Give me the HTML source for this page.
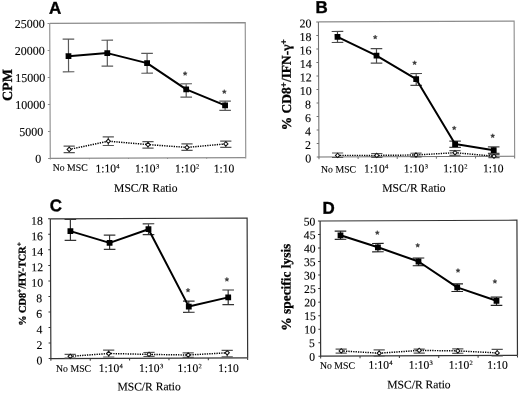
<!DOCTYPE html>
<html><head><meta charset="utf-8"><style>
html,body{margin:0;padding:0;background:#fff;}
body{width:520px;height:394px;overflow:hidden;}
svg{display:block;font-family:"Liberation Serif", serif;will-change:transform;}
</style></head><body>
<svg width="520" height="394" viewBox="0 0 520 394">
<rect width="520" height="394" fill="#fff"/>
<g transform="rotate(-0.23 260.0 197.0)">
<path d="M50.43 22.55H245.93V157.55" fill="none" stroke="#8c8c8c" stroke-width="1.1"/>
<path d="M50.43 22.55V157.55H245.93" fill="none" stroke="#8c8c8c" stroke-width="1.1"/>
<path d="M48.23 157.55H50.43M48.23 130.55H50.43M48.23 103.55H50.43M48.23 76.55H50.43M48.23 49.55H50.43M48.23 22.55H50.43" stroke="#8c8c8c" stroke-width="1"/>
<path d="M50.43 157.55v1.0M89.53 157.55v1.0M128.63 157.55v1.0M167.73 157.55v1.0M206.83 157.55v1.0M245.93 157.55v1.0" stroke="#8c8c8c" stroke-width="1"/>
<text x="41.3" y="161.95" text-anchor="end" font-size="12.0" stroke="#000" stroke-width="0.12">0</text>
<text x="43.4" y="134.95" text-anchor="end" font-size="12.0" stroke="#000" stroke-width="0.12">5000</text>
<text x="45.6" y="107.95" text-anchor="end" font-size="12.0" stroke="#000" stroke-width="0.12">10000</text>
<text x="45.6" y="80.95" text-anchor="end" font-size="12.0" stroke="#000" stroke-width="0.12">15000</text>
<text x="45.4" y="53.95" text-anchor="end" font-size="12.0" stroke="#000" stroke-width="0.12">20000</text>
<text x="45.4" y="26.95" text-anchor="end" font-size="12.0" stroke="#000" stroke-width="0.12">25000</text>
<path d="M69.39 145.43V151.93M63.79 145.43h11.2M63.79 151.93h11.2" stroke="#555" stroke-width="1.2"/>
<path d="M108.53 136.19V144.89M102.93 136.19h11.2M102.93 144.89h11.2" stroke="#555" stroke-width="1.2"/>
<path d="M148.21 141.15V147.65M142.61 141.15h11.2M142.61 147.65h11.2" stroke="#555" stroke-width="1.2"/>
<path d="M187.2 143.61V150.11M181.6 143.61h11.2M181.6 150.11h11.2" stroke="#555" stroke-width="1.2"/>
<path d="M226.01 141.06V147.26M220.41 141.06h11.2M220.41 147.26h11.2" stroke="#555" stroke-width="1.2"/>
<polyline points="69.39,148.63 108.53,140.59 148.21,144.15 187.2,147.11 226.01,143.76" fill="none" stroke="#000" stroke-width="1.45" stroke-dasharray="1.3 1.1"/>
<path d="M69.39 146.48L71.54 148.63L69.39 150.78L67.24 148.63Z" fill="#fff" stroke="#111" stroke-width="1.05"/>
<path d="M108.53 138.44L110.68 140.59L108.53 142.74L106.38 140.59Z" fill="#fff" stroke="#111" stroke-width="1.05"/>
<path d="M148.21 142L150.36 144.15L148.21 146.3L146.06 144.15Z" fill="#fff" stroke="#111" stroke-width="1.05"/>
<path d="M187.2 144.96L189.35 147.11L187.2 149.26L185.05 147.11Z" fill="#fff" stroke="#111" stroke-width="1.05"/>
<path d="M226.01 141.61L228.16 143.76L226.01 145.91L223.86 143.76Z" fill="#fff" stroke="#111" stroke-width="1.05"/>
<path d="M69.07 38.33V71.03M63.27 38.33h11.6M63.27 71.03h11.6" stroke="#5a5a5a" stroke-width="1.2"/>
<path d="M107.88 39.59V65.59M102.08 39.59h11.6M102.08 65.59h11.6" stroke="#5a5a5a" stroke-width="1.2"/>
<path d="M147.64 52.95V72.75M141.84 52.95h11.6M141.84 72.75h11.6" stroke="#5a5a5a" stroke-width="1.2"/>
<path d="M186.63 83.5V96.9M180.83 83.5h11.6M180.83 96.9h11.6" stroke="#5a5a5a" stroke-width="1.2"/>
<path d="M225.47 101.06V110.16M219.67 101.06h11.6M219.67 110.16h11.6" stroke="#5a5a5a" stroke-width="1.2"/>
<polyline points="69.07,55.43 107.88,52.49 147.64,62.65 186.63,89.1 225.47,105.26" fill="none" stroke="#000" stroke-width="2.0" stroke-linejoin="round"/>
<rect x="66.17" y="52.53" width="5.8" height="5.8" fill="#000"/>
<rect x="104.98" y="49.59" width="5.8" height="5.8" fill="#000"/>
<rect x="144.74" y="59.75" width="5.8" height="5.8" fill="#000"/>
<rect x="183.73" y="86.2" width="5.8" height="5.8" fill="#000"/>
<rect x="222.57" y="102.36" width="5.8" height="5.8" fill="#000"/>
<polygon points="185.6,71.1 186.18,72.49 187.69,72.62 186.55,73.61 186.89,75.08 185.6,74.3 184.3,75.08 184.65,73.61 183.5,72.62 185.01,72.49" fill="#3a3a3a" stroke="#3a3a3a" stroke-width="0.45" stroke-linejoin="round"/>
<polygon points="224.72,89.46 225.31,90.85 226.82,90.98 225.67,91.97 226.02,93.44 224.72,92.66 223.43,93.44 223.77,91.97 222.63,90.98 224.14,90.85" fill="#3a3a3a" stroke="#3a3a3a" stroke-width="0.45" stroke-linejoin="round"/>
<text x="52.81" y="169.97" font-size="9.8" stroke="#000" stroke-width="0.12">No MSC</text>
<text x="95.5" y="171.74" font-size="11.6" stroke="#000" stroke-width="0.12">1:10<tspan dx="0.3" dy="-3.7" font-size="6.6">4</tspan></text>
<text x="135.1" y="171.9" font-size="11.6" stroke="#000" stroke-width="0.12">1:10<tspan dx="0.3" dy="-3.7" font-size="6.6">3</tspan></text>
<text x="175.2" y="172.06" font-size="11.6" stroke="#000" stroke-width="0.12">1:10<tspan dx="0.3" dy="-3.7" font-size="6.6">2</tspan></text>
<text x="213.8" y="172.22" font-size="11.6" stroke="#000" stroke-width="0.12">1:10</text>
<text x="114.12" y="191.32" font-size="11.6" stroke="#000" stroke-width="0.12">MSC/R Ratio</text>
<text transform="translate(12.35,84.1) rotate(-90)" text-anchor="middle" font-weight="bold" font-size="14" stroke="#000" stroke-width="0.3">CPM</text>
<text x="49.74" y="12.85" font-family='"Liberation Sans", sans-serif' font-weight="bold" font-size="17" stroke="#000" stroke-width="0.35">A</text>
<path d="M319.13 22.13H514.83V157.23" fill="none" stroke="#8c8c8c" stroke-width="1.1"/>
<path d="M319.13 22.13V157.23H514.83" fill="none" stroke="#707070" stroke-width="1.1"/>
<path d="M316.93 157.23H319.13M316.93 143.72H319.13M316.93 130.21H319.13M316.93 116.7H319.13M316.93 103.19H319.13M316.93 89.68H319.13M316.93 76.17H319.13M316.93 62.66H319.13M316.93 49.15H319.13M316.93 35.64H319.13M316.93 22.13H319.13" stroke="#707070" stroke-width="1"/>
<path d="M319.13 157.23v2.2M358.27 157.23v2.2M397.41 157.23v2.2M436.55 157.23v2.2M475.69 157.23v2.2M514.83 157.23v2.2" stroke="#707070" stroke-width="1"/>
<text x="311.3" y="162.73" text-anchor="end" font-size="12.0" stroke="#000" stroke-width="0.12">0</text>
<text x="311.3" y="149.22" text-anchor="end" font-size="12.0" stroke="#000" stroke-width="0.12">2</text>
<text x="311.3" y="135.71" text-anchor="end" font-size="12.0" stroke="#000" stroke-width="0.12">4</text>
<text x="311.3" y="122.2" text-anchor="end" font-size="12.0" stroke="#000" stroke-width="0.12">6</text>
<text x="311.3" y="108.69" text-anchor="end" font-size="12.0" stroke="#000" stroke-width="0.12">8</text>
<text x="312.2" y="95.18" text-anchor="end" font-size="12.0" stroke="#000" stroke-width="0.12">10</text>
<text x="312.2" y="81.67" text-anchor="end" font-size="12.0" stroke="#000" stroke-width="0.12">12</text>
<text x="312.2" y="68.16" text-anchor="end" font-size="12.0" stroke="#000" stroke-width="0.12">14</text>
<text x="312.2" y="54.65" text-anchor="end" font-size="12.0" stroke="#000" stroke-width="0.12">16</text>
<text x="312.2" y="41.14" text-anchor="end" font-size="12.0" stroke="#000" stroke-width="0.12">18</text>
<text x="312.2" y="27.63" text-anchor="end" font-size="12.0" stroke="#000" stroke-width="0.12">20</text>
<path d="M337.77 153.31V157.81M332.17 153.31h11.2M332.17 157.81h11.2" stroke="#555" stroke-width="1.2"/>
<path d="M376.97 153.97V157.77M371.37 153.97h11.2M371.37 157.77h11.2" stroke="#555" stroke-width="1.2"/>
<path d="M416.17 153.83V157.43M410.57 153.83h11.2M410.57 157.43h11.2" stroke="#555" stroke-width="1.2"/>
<path d="M455.18 151.48V156.08M449.58 151.48h11.2M449.58 156.08h11.2" stroke="#555" stroke-width="1.2"/>
<path d="M494.16 155.64V158.54M488.56 155.64h11.2M488.56 158.54h11.2" stroke="#555" stroke-width="1.2"/>
<polyline points="337.77,155.71 376.97,155.87 416.17,155.63 455.18,153.48 494.16,157.14" fill="none" stroke="#000" stroke-width="1.45" stroke-dasharray="1.3 1.1"/>
<path d="M337.77 153.56L339.92 155.71L337.77 157.86L335.62 155.71Z" fill="#fff" stroke="#111" stroke-width="1.05"/>
<path d="M376.97 153.72L379.12 155.87L376.97 158.02L374.82 155.87Z" fill="#fff" stroke="#111" stroke-width="1.05"/>
<path d="M416.17 153.48L418.32 155.63L416.17 157.78L414.02 155.63Z" fill="#fff" stroke="#111" stroke-width="1.05"/>
<path d="M455.18 151.33L457.33 153.48L455.18 155.63L453.03 153.48Z" fill="#fff" stroke="#111" stroke-width="1.05"/>
<path d="M494.16 154.99L496.31 157.14L494.16 159.29L492.01 157.14Z" fill="#fff" stroke="#111" stroke-width="1.05"/>
<path d="M338.14 31.81V42.81M332.34 31.81h11.6M332.34 42.81h11.6" stroke="#4a4a4a" stroke-width="1.2"/>
<path d="M377.07 49.07V63.67M371.27 49.07h11.6M371.27 63.67h11.6" stroke="#4a4a4a" stroke-width="1.2"/>
<path d="M416.67 74.13V86.03M410.87 74.13h11.6M410.87 86.03h11.6" stroke="#4a4a4a" stroke-width="1.2"/>
<path d="M455.31 141.98V148.18M449.51 141.98h11.6M449.51 148.18h11.6" stroke="#4a4a4a" stroke-width="1.2"/>
<path d="M493.89 147.84V154.24M488.09 147.84h11.6M488.09 154.24h11.6" stroke="#4a4a4a" stroke-width="1.2"/>
<polyline points="338.14,37.21 377.07,56.17 416.67,79.83 455.31,144.88 493.89,151.14" fill="none" stroke="#000" stroke-width="2.0" stroke-linejoin="round"/>
<rect x="335.24" y="34.31" width="5.8" height="5.8" fill="#000"/>
<rect x="374.17" y="53.27" width="5.8" height="5.8" fill="#000"/>
<rect x="413.77" y="76.93" width="5.8" height="5.8" fill="#000"/>
<rect x="452.41" y="141.98" width="5.8" height="5.8" fill="#000"/>
<rect x="490.99" y="148.24" width="5.8" height="5.8" fill="#000"/>
<polygon points="375.84,35.46 376.43,36.85 377.93,36.98 376.79,37.97 377.13,39.44 375.84,38.66 374.55,39.44 374.89,37.97 373.75,36.98 375.25,36.85" fill="#3a3a3a" stroke="#3a3a3a" stroke-width="0.45" stroke-linejoin="round"/>
<polygon points="415.14,61.32 415.73,62.71 417.23,62.84 416.09,63.83 416.43,65.3 415.14,64.52 413.85,65.3 414.19,63.83 413.05,62.84 414.55,62.71" fill="#3a3a3a" stroke="#3a3a3a" stroke-width="0.45" stroke-linejoin="round"/>
<polygon points="454.48,126.68 455.06,128.07 456.57,128.2 455.43,129.19 455.77,130.66 454.48,129.88 453.18,130.66 453.53,129.19 452.38,128.2 453.89,128.07" fill="#3a3a3a" stroke="#3a3a3a" stroke-width="0.45" stroke-linejoin="round"/>
<polygon points="492.94,134.63 493.53,136.03 495.04,136.15 493.9,137.14 494.24,138.61 492.94,137.83 491.65,138.61 491.99,137.14 490.85,136.15 492.36,136.03" fill="#3a3a3a" stroke="#3a3a3a" stroke-width="0.45" stroke-linejoin="round"/>
<text x="321.1" y="172.75" font-size="9.8" stroke="#000" stroke-width="0.12">No MSC</text>
<text x="364.2" y="173.02" font-size="11.6" stroke="#000" stroke-width="0.12">1:10<tspan dx="0.3" dy="-3.7" font-size="6.6">4</tspan></text>
<text x="403.9" y="172.98" font-size="11.6" stroke="#000" stroke-width="0.12">1:10<tspan dx="0.3" dy="-3.7" font-size="6.6">3</tspan></text>
<text x="443.4" y="172.94" font-size="11.6" stroke="#000" stroke-width="0.12">1:10<tspan dx="0.3" dy="-3.7" font-size="6.6">2</tspan></text>
<text x="483" y="173.1" font-size="11.6" stroke="#000" stroke-width="0.12">1:10</text>
<text x="382.22" y="192.39" font-size="11.6" stroke="#000" stroke-width="0.12">MSC/R Ratio</text>
<text transform="translate(291.25,84.82) rotate(-90)" text-anchor="middle" font-weight="bold" font-size="13.4" stroke="#000" stroke-width="0.3">% CD8<tspan dy="-4" font-size="9.38">+</tspan><tspan dy="4">/IFN-γ</tspan><tspan dy="-4" font-size="9.38">+</tspan></text>
<text x="316.14" y="13.12" font-family='"Liberation Sans", sans-serif' font-weight="bold" font-size="17" stroke="#000" stroke-width="0.35">B</text>
<path d="M50.24 217.95H247.03V357.75" fill="none" stroke="#333" stroke-width="1.2"/>
<path d="M50.24 217.95V357.75H247.03" fill="none" stroke="#333" stroke-width="1.2"/>
<path d="M48.04 357.75H50.24M48.04 342.22H50.24M48.04 326.69H50.24M48.04 311.15H50.24M48.04 295.62H50.24M48.04 280.09H50.24M48.04 264.55H50.24M48.04 249.02H50.24M48.04 233.49H50.24M48.04 217.95H50.24" stroke="#333" stroke-width="1"/>
<path d="M50.24 357.75v2.2M89.59 357.75v2.2M128.95 357.75v2.2M168.31 357.75v2.2M207.67 357.75v2.2M247.03 357.75v2.2" stroke="#333" stroke-width="1"/>
<text x="41.8" y="363.55" text-anchor="end" font-size="11.8" stroke="#000" stroke-width="0.12">0</text>
<text x="41.8" y="348.02" text-anchor="end" font-size="11.8" stroke="#000" stroke-width="0.12">2</text>
<text x="41.8" y="332.49" text-anchor="end" font-size="11.8" stroke="#000" stroke-width="0.12">4</text>
<text x="41.8" y="316.95" text-anchor="end" font-size="11.8" stroke="#000" stroke-width="0.12">6</text>
<text x="41.8" y="301.42" text-anchor="end" font-size="11.8" stroke="#000" stroke-width="0.12">8</text>
<text x="42.8" y="285.89" text-anchor="end" font-size="11.8" stroke="#000" stroke-width="0.12">10</text>
<text x="42.8" y="270.35" text-anchor="end" font-size="11.8" stroke="#000" stroke-width="0.12">12</text>
<text x="42.8" y="254.82" text-anchor="end" font-size="11.8" stroke="#000" stroke-width="0.12">14</text>
<text x="42.8" y="239.29" text-anchor="end" font-size="11.8" stroke="#000" stroke-width="0.12">16</text>
<text x="42.8" y="223.75" text-anchor="end" font-size="11.8" stroke="#000" stroke-width="0.12">18</text>
<path d="M69.56 353.64V357.24M63.96 353.64h11.2M63.96 357.24h11.2" stroke="#555" stroke-width="1.2"/>
<path d="M108.07 349.59V356.39M102.47 349.59h11.2M102.47 356.39h11.2" stroke="#555" stroke-width="1.2"/>
<path d="M148.37 352.05V356.05M142.77 352.05h11.2M142.77 356.05h11.2" stroke="#555" stroke-width="1.2"/>
<path d="M187.57 352.51V357.01M181.97 352.51h11.2M181.97 357.01h11.2" stroke="#555" stroke-width="1.2"/>
<path d="M226.57 350.17V356.67M220.97 350.17h11.2M220.97 356.67h11.2" stroke="#555" stroke-width="1.2"/>
<polyline points="69.56,355.54 108.07,352.89 148.37,353.95 187.57,354.71 226.57,352.67" fill="none" stroke="#000" stroke-width="1.45" stroke-dasharray="1.3 1.1"/>
<path d="M69.56 353.39L71.71 355.54L69.56 357.69L67.41 355.54Z" fill="#fff" stroke="#111" stroke-width="1.05"/>
<path d="M108.07 350.74L110.22 352.89L108.07 355.04L105.92 352.89Z" fill="#fff" stroke="#111" stroke-width="1.05"/>
<path d="M148.37 351.8L150.52 353.95L148.37 356.1L146.22 353.95Z" fill="#fff" stroke="#111" stroke-width="1.05"/>
<path d="M187.57 352.56L189.72 354.71L187.57 356.86L185.42 354.71Z" fill="#fff" stroke="#111" stroke-width="1.05"/>
<path d="M226.57 350.52L228.72 352.67L226.57 354.82L224.42 352.67Z" fill="#fff" stroke="#111" stroke-width="1.05"/>
<path d="M70.26 218.74V239.54M64.46 218.74h11.6M64.46 239.54h11.6" stroke="#333" stroke-width="1.2"/>
<path d="M109.42 234.5V248.8M103.62 234.5h11.6M103.62 248.8h11.6" stroke="#333" stroke-width="1.2"/>
<path d="M148.37 223.35V234.15M142.57 223.35h11.6M142.57 234.15h11.6" stroke="#333" stroke-width="1.2"/>
<path d="M188.36 300.91V312.01M182.56 300.91h11.6M182.56 312.01h11.6" stroke="#333" stroke-width="1.2"/>
<path d="M227.8 289.87V304.47M222 289.87h11.6M222 304.47h11.6" stroke="#333" stroke-width="1.2"/>
<polyline points="70.26,230.34 109.42,242.3 148.37,228.75 188.36,306.31 227.8,297.27" fill="none" stroke="#000" stroke-width="2.0" stroke-linejoin="round"/>
<rect x="67.36" y="227.44" width="5.8" height="5.8" fill="#000"/>
<rect x="106.52" y="239.4" width="5.8" height="5.8" fill="#000"/>
<rect x="145.47" y="225.85" width="5.8" height="5.8" fill="#000"/>
<rect x="185.46" y="303.41" width="5.8" height="5.8" fill="#000"/>
<rect x="224.9" y="294.37" width="5.8" height="5.8" fill="#000"/>
<polygon points="187.63,287.81 188.22,289.2 189.72,289.33 188.58,290.32 188.92,291.79 187.63,291.01 186.33,291.79 186.68,290.32 185.53,289.33 187.04,289.2" fill="#3a3a3a" stroke="#3a3a3a" stroke-width="0.45" stroke-linejoin="round"/>
<polygon points="226.57,277.17 227.16,278.56 228.66,278.69 227.52,279.68 227.86,281.15 226.57,280.37 225.28,281.15 225.62,279.68 224.48,278.69 225.98,278.56" fill="#3a3a3a" stroke="#3a3a3a" stroke-width="0.45" stroke-linejoin="round"/>
<text x="55.3" y="370.98" font-size="9.8" stroke="#000" stroke-width="0.12">No MSC</text>
<text x="98" y="371.35" font-size="11.6" stroke="#000" stroke-width="0.12">1:10<tspan dx="0.3" dy="-3.7" font-size="6.6">4</tspan></text>
<text x="138.3" y="371.51" font-size="11.6" stroke="#000" stroke-width="0.12">1:10<tspan dx="0.3" dy="-3.7" font-size="6.6">3</tspan></text>
<text x="176.9" y="371.67" font-size="11.6" stroke="#000" stroke-width="0.12">1:10<tspan dx="0.3" dy="-3.7" font-size="6.6">2</tspan></text>
<text x="217.6" y="371.83" font-size="11.6" stroke="#000" stroke-width="0.12">1:10</text>
<text x="116.62" y="389.93" font-size="11.6" stroke="#000" stroke-width="0.12">MSC/R Ratio</text>
<text transform="translate(25.25,283.06) rotate(-90)" text-anchor="middle" font-weight="bold" font-size="10.3" stroke="#000" stroke-width="0.3">% CD8<tspan dy="-4" font-size="7.21">+</tspan><tspan dy="4">/HY-TCR</tspan><tspan dy="-4" font-size="7.21">+</tspan></text>
<text x="49.74" y="210.36" font-family='"Liberation Sans", sans-serif' font-weight="bold" font-size="17" stroke="#000" stroke-width="0.35">C</text>
<path d="M320.03 221.24H516.83V356.44" fill="none" stroke="#333" stroke-width="1.2"/>
<path d="M320.03 221.24V356.44H516.83" fill="none" stroke="#333" stroke-width="1.2"/>
<path d="M317.83 356.44H320.03M317.83 342.92H320.03M317.83 329.4H320.03M317.83 315.88H320.03M317.83 302.36H320.03M317.83 288.84H320.03M317.83 275.32H320.03M317.83 261.8H320.03M317.83 248.28H320.03M317.83 234.76H320.03M317.83 221.24H320.03" stroke="#333" stroke-width="1"/>
<path d="M320.03 356.44v2.2M359.39 356.44v2.2M398.75 356.44v2.2M438.11 356.44v2.2M477.47 356.44v2.2M516.83 356.44v2.2" stroke="#333" stroke-width="1"/>
<text x="314.3" y="360.84" text-anchor="end" font-size="11.6" stroke="#000" stroke-width="0.12">0</text>
<text x="314.3" y="347.32" text-anchor="end" font-size="11.6" stroke="#000" stroke-width="0.12">5</text>
<text x="315.3" y="333.8" text-anchor="end" font-size="11.6" stroke="#000" stroke-width="0.12">10</text>
<text x="315.3" y="320.28" text-anchor="end" font-size="11.6" stroke="#000" stroke-width="0.12">15</text>
<text x="315.3" y="306.76" text-anchor="end" font-size="11.6" stroke="#000" stroke-width="0.12">20</text>
<text x="315.3" y="293.24" text-anchor="end" font-size="11.6" stroke="#000" stroke-width="0.12">25</text>
<text x="315.3" y="279.72" text-anchor="end" font-size="11.6" stroke="#000" stroke-width="0.12">30</text>
<text x="315.3" y="266.2" text-anchor="end" font-size="11.6" stroke="#000" stroke-width="0.12">35</text>
<text x="315.3" y="252.68" text-anchor="end" font-size="11.6" stroke="#000" stroke-width="0.12">40</text>
<text x="315.3" y="239.16" text-anchor="end" font-size="11.6" stroke="#000" stroke-width="0.12">45</text>
<text x="315.3" y="225.64" text-anchor="end" font-size="11.6" stroke="#000" stroke-width="0.12">50</text>
<path d="M340.58 349.42V353.42M334.98 349.42h11.2M334.98 353.42h11.2" stroke="#555" stroke-width="1.2"/>
<path d="M378.57 350.38V356.48M372.97 350.38h11.2M372.97 356.48h11.2" stroke="#555" stroke-width="1.2"/>
<path d="M418.58 349.84V353.84M412.98 349.84h11.2M412.98 353.84h11.2" stroke="#555" stroke-width="1.2"/>
<path d="M457.18 349.69V354.09M451.58 349.69h11.2M451.58 354.09h11.2" stroke="#555" stroke-width="1.2"/>
<path d="M496.57 350.25V356.95M490.97 350.25h11.2M490.97 356.95h11.2" stroke="#555" stroke-width="1.2"/>
<polyline points="340.58,351.22 378.57,353.68 418.58,351.04 457.18,351.69 496.57,353.85" fill="none" stroke="#000" stroke-width="1.45" stroke-dasharray="1.3 1.1"/>
<path d="M340.58 349.07L342.73 351.22L340.58 353.37L338.43 351.22Z" fill="#fff" stroke="#111" stroke-width="1.05"/>
<path d="M378.57 351.53L380.72 353.68L378.57 355.83L376.42 353.68Z" fill="#fff" stroke="#111" stroke-width="1.05"/>
<path d="M418.58 348.89L420.73 351.04L418.58 353.19L416.43 351.04Z" fill="#fff" stroke="#111" stroke-width="1.05"/>
<path d="M457.18 349.54L459.33 351.69L457.18 353.84L455.03 351.69Z" fill="#fff" stroke="#111" stroke-width="1.05"/>
<path d="M496.57 351.7L498.72 353.85L496.57 356L494.42 353.85Z" fill="#fff" stroke="#111" stroke-width="1.05"/>
<path d="M340.35 231.52V239.62M334.55 231.52h11.6M334.55 239.62h11.6" stroke="#222" stroke-width="1.2"/>
<path d="M377.7 243.97V252.27M371.9 243.97h11.6M371.9 252.27h11.6" stroke="#222" stroke-width="1.2"/>
<path d="M418.24 258.64V266.34M412.44 258.64h11.6M412.44 266.34h11.6" stroke="#222" stroke-width="1.2"/>
<path d="M456.84 284.59V292.29M451.04 284.59h11.6M451.04 292.29h11.6" stroke="#222" stroke-width="1.2"/>
<path d="M496.08 298.15V306.35M490.28 298.15h11.6M490.28 306.35h11.6" stroke="#222" stroke-width="1.2"/>
<polyline points="340.35,235.62 377.7,247.77 418.24,262.14 456.84,288.19 496.08,301.75" fill="none" stroke="#000" stroke-width="2.0" stroke-linejoin="round"/>
<rect x="337.45" y="232.72" width="5.8" height="5.8" fill="#000"/>
<rect x="374.8" y="244.87" width="5.8" height="5.8" fill="#000"/>
<rect x="415.34" y="259.24" width="5.8" height="5.8" fill="#000"/>
<rect x="453.94" y="285.29" width="5.8" height="5.8" fill="#000"/>
<rect x="493.18" y="298.85" width="5.8" height="5.8" fill="#000"/>
<polygon points="377.16,231.07 377.74,232.46 379.25,232.59 378.11,233.58 378.45,235.05 377.16,234.27 375.86,235.05 376.21,233.58 375.06,232.59 376.57,232.46" fill="#3a3a3a" stroke="#3a3a3a" stroke-width="0.45" stroke-linejoin="round"/>
<polygon points="417.51,243.83 418.09,245.22 419.6,245.35 418.46,246.34 418.8,247.81 417.51,247.03 416.21,247.81 416.55,246.34 415.41,245.35 416.92,245.22" fill="#3a3a3a" stroke="#3a3a3a" stroke-width="0.45" stroke-linejoin="round"/>
<polygon points="457.7,269.19 458.29,270.59 459.8,270.71 458.66,271.7 459,273.17 457.7,272.39 456.41,273.17 456.75,271.7 455.61,270.71 457.12,270.59" fill="#3a3a3a" stroke="#3a3a3a" stroke-width="0.45" stroke-linejoin="round"/>
<polygon points="494.56,280.24 495.15,281.63 496.65,281.76 495.51,282.75 495.85,284.22 494.56,283.44 493.27,284.22 493.61,282.75 492.47,281.76 493.97,281.63" fill="#3a3a3a" stroke="#3a3a3a" stroke-width="0.45" stroke-linejoin="round"/>
<text x="319.21" y="369.04" font-size="9.8" stroke="#000" stroke-width="0.12">No MSC</text>
<text x="367.71" y="369.24" font-size="11.6" stroke="#000" stroke-width="0.12">1:10<tspan dx="0.3" dy="-3.7" font-size="6.6">4</tspan></text>
<text x="408.01" y="369.4" font-size="11.6" stroke="#000" stroke-width="0.12">1:10<tspan dx="0.3" dy="-3.7" font-size="6.6">3</tspan></text>
<text x="448.01" y="369.56" font-size="11.6" stroke="#000" stroke-width="0.12">1:10<tspan dx="0.3" dy="-3.7" font-size="6.6">2</tspan></text>
<text x="486.51" y="369.71" font-size="11.6" stroke="#000" stroke-width="0.12">1:10</text>
<text x="386.43" y="389.01" font-size="11.6" stroke="#000" stroke-width="0.12">MSC/R Ratio</text>
<text transform="translate(290.14,287.32) rotate(-90)" text-anchor="middle" font-weight="bold" font-size="13.4" stroke="#000" stroke-width="0.3">% specific lysis</text>
<text x="322.43" y="213.95" font-family='"Liberation Sans", sans-serif' font-weight="bold" font-size="17" stroke="#000" stroke-width="0.35">D</text>
</g>
</svg>
</body></html>
